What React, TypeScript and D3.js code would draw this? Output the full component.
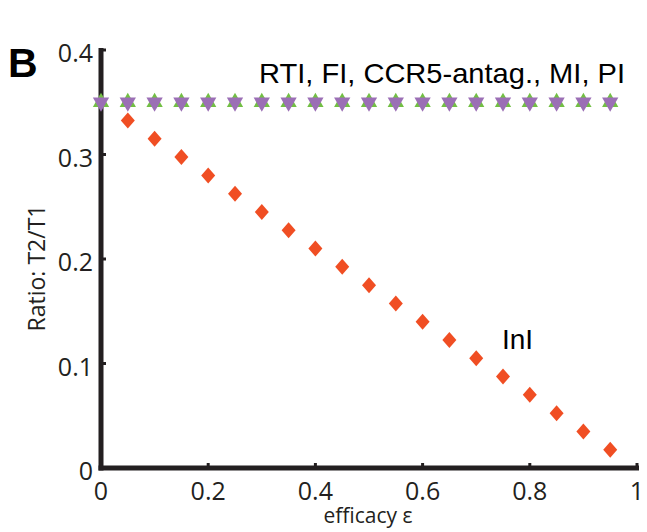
import React from 'react';
import * as d3 from 'd3';

// efficacy values for the two marker series
const starX = [0, 0.05, 0.1, 0.15, 0.2, 0.25, 0.3, 0.35, 0.4, 0.45, 0.5, 0.55, 0.6, 0.65, 0.7, 0.75, 0.8, 0.85, 0.9, 0.95];
const starY = [0.35, 0.35, 0.35, 0.35, 0.35, 0.35, 0.35, 0.35, 0.35, 0.35, 0.35, 0.35, 0.35, 0.35, 0.35, 0.35, 0.35, 0.35, 0.35, 0.35];
const iniX = [0.05, 0.1, 0.15, 0.2, 0.25, 0.3, 0.35, 0.4, 0.45, 0.5, 0.55, 0.6, 0.65, 0.7, 0.75, 0.8, 0.85, 0.9, 0.95];
const iniY = [0.3325, 0.315, 0.2975, 0.28, 0.2625, 0.245, 0.2275, 0.21, 0.1925, 0.175, 0.1575, 0.14, 0.1225, 0.105, 0.0875, 0.07, 0.0525, 0.035, 0.0175];
const xTicks = [0, 0.2, 0.4, 0.6, 0.8, 1];
const yTicks = [0, 0.1, 0.2, 0.3, 0.4];

const W = 647;
const H = 532;

const App = () => {
    const x = d3.scaleLinear().domain([0, 1]).range([101, 637]);
    const y = d3.scaleLinear().domain([0, 0.4]).range([468, 50]);

    const tickFont = "'Open Sans', 'DejaVu Sans', sans-serif";
    const labelFont = "'Liberation Sans', Arial, sans-serif";

    // hexagram made of two triangles
    const tri = d3.symbol().type(d3.symbolTriangle).size(115);
    const diamond = 'M0,-8L7,0L0,8L-7,0Z';

    return (
        <svg width={W} height={H} style={{ display: 'block', position: 'absolute', left: 0, top: 0 }}>
            <rect width={W} height={H} fill="#fff" />

            {/* axes */}
            <line x1={x(0)} x2={x(0)} y1={y(0.4) - 2} y2={y(0) + 2.5} stroke="#231f20" strokeWidth={5} />
            <line x1={x(0) - 2.5} x2={x(1) + 2} y1={y(0)} y2={y(0)} stroke="#231f20" strokeWidth={5} />
            {yTicks.map(t => (
                <line key={'yt' + t} x1={x(0)} x2={x(0) + 5} y1={y(t)} y2={y(t)} stroke="#231f20" strokeWidth={3} />
            ))}
            {xTicks.map(t => (
                <line key={'xt' + t} x1={x(t)} x2={x(t)} y1={y(0)} y2={y(0) - 5} stroke="#231f20" strokeWidth={3} />
            ))}

            {yTicks.map(t => (
                <text key={'yl' + t} x={x(0) - 8} y={y(t) + 12} textAnchor="end" fontFamily={tickFont} fontSize={25} fill="#231f20">
                    {t === 0 ? '0' : d3.format('.1f')(t)}
                </text>
            ))}
            {xTicks.map(t => (
                <text key={'xl' + t} x={x(t)} y={y(0) + 32} textAnchor="middle" fontFamily={tickFont} fontSize={25} fill="#231f20">
                    {t === 0 || t === 1 ? String(t) : d3.format('.1f')(t)}
                </text>
            ))}

            <text x={368} y={523} textAnchor="middle" fontFamily={tickFont} fontSize={21} fill="#231f20">efficacy ε</text>
            <text transform="translate(45,268) rotate(-90)" textAnchor="middle" fontFamily={tickFont} fontSize={23} fill="#231f20">Ratio: T2/T1</text>
            <text x={8} y={77} fontFamily={labelFont} fontWeight="bold" fontSize={41} fill="#000">B</text>

            {/* InI diamonds */}
            {iniX.map((v, i) => (
                <path key={'d' + i} d={diamond} transform={`translate(${x(v)},${y(iniY[i])})`} fill="#f04e23" />
            ))}

            {/* stars */}
            {starX.map((v, i) => (
                <g key={'s' + i} transform={`translate(${x(v)},${y(starY[i])})`}>
                    <path d={tri() as string} fill="#72bf44" />
                    <path d={tri() as string} transform="rotate(180)" fill="#9b6fb5" />
                </g>
            ))}

            <text x={259} y={83} fontFamily={labelFont} fontSize={28} textLength={366} lengthAdjust="spacingAndGlyphs" fill="#000">RTI, FI, CCR5-antag., MI, PI</text>
            <text x={502} y={349} fontFamily={labelFont} fontSize={28} fill="#000">InI</text>
        </svg>
    );
};

export default App;
